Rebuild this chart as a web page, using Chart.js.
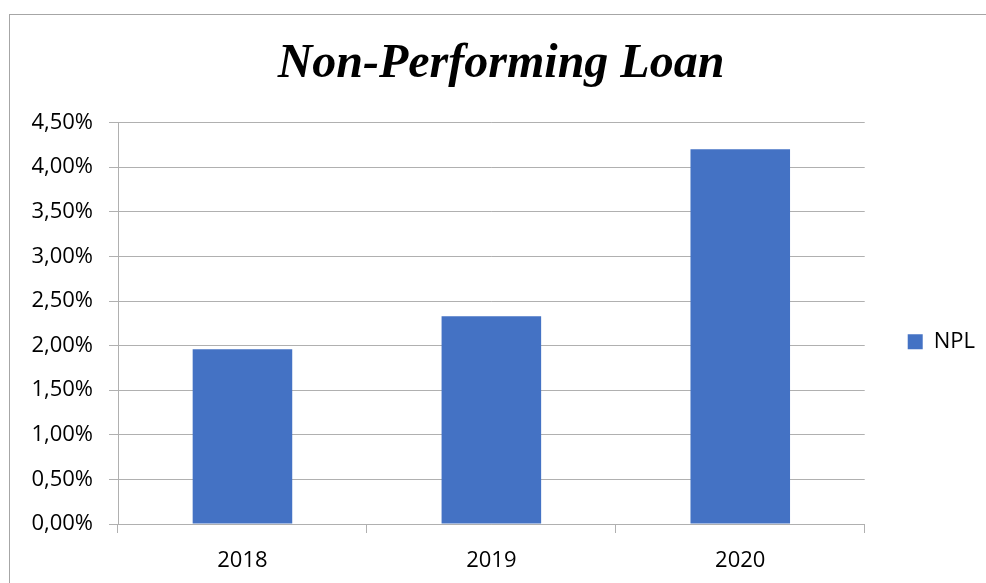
<!DOCTYPE html>
<html>
<head>
<meta charset="utf-8">
<script src="https://cdn.jsdelivr.net/npm/chart.js@4"></script>
<style>
  html, body { margin: 0; padding: 0; background: #fff; overflow: hidden; }
  #frame {
    position: absolute; left: 9px; top: 14px;
    width: 984px; height: 569px;
    border-left: 1px solid #a6a6a6; border-top: 1px solid #a6a6a6;
  }
  #frame canvas { display: block; }
</style>
</head>
<body>
<div id="frame"><canvas id="npl" width="984" height="569"></canvas></div>
<script>
// dữ liệu
const years = ["2018", "2019", "2020"];
const nplValues = [1.96, 2.33, 4.20];
const yTicks = [0, 0.5, 1, 1.5, 2, 2.5, 3, 3.5, 4, 4.5];

const gridColor = "#b0b0b0";
const tickFont = { family: "'Open Sans', sans-serif", size: 22 };

// tiêu đề căn giữa theo khung biểu đồ (không theo vùng trừ chú thích)
const centerTitle = {
  id: "centerTitle",
  afterLayout(chart) {
    chart.titleBlock.left = 0;
    chart.titleBlock.right = 982;
  },
};

document.addEventListener("DOMContentLoaded", function () {
  const ctx = document.getElementById("npl").getContext("2d");
  new Chart(ctx, {
    type: "bar",
    data: {
      labels: years,
      datasets: [{
        label: "NPL",
        data: nplValues,
        backgroundColor: "#4472C4",
        barPercentage: 0.4,
        categoryPercentage: 1,
      }],
    },
    plugins: [centerTitle],
    options: {
      responsive: false,
      animation: false,
      layout: { padding: { left: 0, right: 9, top: 0, bottom: 0 } },
      plugins: {
        title: {
          display: true,
          text: "Non-Performing Loan",
          color: "#000",
          font: { family: "'Liberation Serif', 'Times New Roman', serif", size: 48, weight: "bold", style: "italic" },
          padding: { top: 21, bottom: 29 },
        },
        legend: {
          position: "right",
          title: { display: true, text: "", padding: { top: 70, bottom: 0 } },
          labels: {
            color: "#000",
            font: tickFont,
            boxWidth: 15,
            boxHeight: 15,
            padding: 43,
          },
        },
        tooltip: { enabled: false },
      },
      scales: {
        x: {
          grid: {
            display: true,
            drawOnChartArea: false,
            color: gridColor,
            tickLength: 9,
            offset: true,
          },
          border: { color: gridColor },
          ticks: { color: "#000", font: tickFont, padding: 15, maxRotation: 0 },
          afterFit: function (scale) {
            scale.height = 60;
            scale.paddingLeft = 0;
            scale.paddingRight = 0;
          },
        },
        y: {
          min: 0,
          max: 4.5,
          afterBuildTicks: function (scale) {
            scale.ticks = yTicks.map(v => ({ value: v }));
          },
          grid: { color: gridColor, tickLength: 9 },
          border: { color: gridColor },
          ticks: {
            color: "#000",
            font: tickFont,
            padding: 16,
            callback: v => v.toFixed(2).replace(".", ",") + "%",
          },
          afterFit: function (scale) {
            scale.width = 108;
            scale.paddingTop = 0;
            scale.paddingBottom = 0;
          },
        },
      },
    },
  });
});
</script>
</body>
</html>
